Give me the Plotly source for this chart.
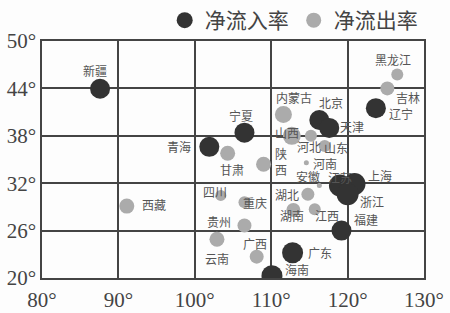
import plotly.graph_objects as go

# ---- data ----
provinces = ["新疆", "青海", "甘肃", "宁夏", "陕西", "内蒙古", "山西", "河北", "北京", "天津",
             "山东", "河南", "安徽", "江苏", "上海", "浙江", "福建", "广东", "海南", "湖北",
             "湖南", "江西", "四川", "重庆", "贵州", "云南", "广西", "西藏", "黑龙江", "吉林", "辽宁"]
flow_type = ["in", "in", "out", "in", "out", "out", "out", "out", "in", "in",
             "out", "out", "out", "in", "in", "in", "in", "in", "in", "out",
             "out", "out", "out", "out", "out", "out", "out", "out", "out", "out", "in"]
longitude = [87.6, 101.9, 104.3, 106.5, 109.0, 111.6, 112.7, 115.2, 116.3, 117.6,
             117.0, 114.6, 116.3, 119.0, 120.9, 120.0, 119.2, 112.8, 110.1, 114.8,
             112.9, 115.7, 103.4, 106.5, 106.5, 102.9, 108.1, 91.1, 126.5, 125.2, 123.7]
latitude = [43.95, 36.6, 35.8, 38.4, 34.4, 40.7, 38.0, 38.0, 40.0, 39.0,
            36.7, 34.6, 31.7, 31.7, 31.9, 30.6, 26.0, 23.2, 20.3, 30.6,
            28.6, 28.7, 30.45, 29.6, 26.65, 24.9, 22.7, 29.1, 45.75, 44.0, 41.5]
rate_abs = [10, 10, 7.5, 10, 7.5, 8.5, 9, 6, 10, 10,
            6, 2.5, 2.5, 11, 11, 11, 10, 10.5, 10.5, 6.5,
            7, 6, 5.5, 6, 7, 7.5, 7, 7.5, 6, 7, 10]
x_ticks = [80, 90, 100, 110, 120, 130]
y_ticks = [20, 26, 32, 38, 44, 50]
legend_names = {"in": "净流入率", "out": "净流出率"}

# ---- label placement (pixel offsets from each point) ----
label_offsets = {
    "新疆": (-5, -18), "青海": (-30, 0), "甘肃": (4, 16), "宁夏": (-3, -17),
    "陕西": (17, -3), "内蒙古": (11, -17), "山西": (-5, -3), "河北": (-2, 11),
    "北京": (12, -18), "天津": (23, -1), "山东": (11, 1), "河南": (19, 1),
    "安徽": (-11, -9), "江苏": (0, -8), "上海": (26, -8), "浙江": (24, 7),
    "福建": (25, -11), "广东": (27, 0), "海南": (25, -6), "湖北": (-21, 0),
    "湖南": (-1, 5), "江西": (12, 6), "四川": (-6, -4), "重庆": (11, 0),
    "贵州": (-25, -4), "云南": (0, 19), "广西": (-2, -13), "西藏": (27, -2),
    "黑龙江": (-4, -15), "吉林": (21, 9), "辽宁": (25, 5),
}
colors = {"in": "#333333", "out": "#ababab"}
size_scale = 2.0
cjk = "Noto Sans CJK SC"

fig = go.Figure()
for t in ["out", "in"]:
    idx = [i for i, f in enumerate(flow_type) if f == t]
    fig.add_trace(go.Scatter(
        x=[longitude[i] for i in idx], y=[latitude[i] for i in idx],
        mode="markers",
        marker=dict(size=[rate_abs[i] * size_scale for i in idx], sizemode="diameter",
                    color=colors[t], line=dict(width=0), opacity=1),
        text=[provinces[i] for i in idx], hoverinfo="text",
        showlegend=False,
    ))

# legend-only traces
for t, sz in [("in", 19), ("out", 15)]:
    fig.add_trace(go.Scatter(x=[None], y=[None], mode="markers", name=legend_names[t],
                             marker=dict(size=sz, color=colors[t])))

for name, lon, lat in zip(provinces, longitude, latitude):
    dx, dy = label_offsets[name]
    txt = "陕<br>西" if name == "陕西" else name
    fig.add_annotation(x=lon, y=lat, xref="x", yref="y", text=txt, showarrow=False,
                       xshift=dx, yshift=-dy,
                       font=dict(family=cjk, size=12, color="#555555"))

axis_common = dict(showgrid=True, gridcolor="#444444", gridwidth=1.5,
                   showline=True, linecolor="#444444", linewidth=1.5, mirror=True,
                   zeroline=False, ticks="", automargin=False,
                   tickfont=dict(family="Liberation Serif", size=21, color="#444444"))

fig.update_layout(
    width=450, height=313,
    margin=dict(l=42, r=26, t=33, b=35),
    paper_bgcolor="#fdfdfd", plot_bgcolor="#fdfdfd",
    xaxis=dict(range=[80, 130], tickvals=x_ticks, ticktext=[f"{v}°" for v in x_ticks],
               ticklabelstandoff=2, **axis_common),
    yaxis=dict(range=[20, 50], tickvals=y_ticks, ticktext=[f"{v}°" for v in y_ticks],
               ticklabelstandoff=0, **axis_common),
    legend=dict(orientation="h", xref="container", yref="container",
                x=0.366, y=1.0, xanchor="left", yanchor="top",
                font=dict(family=cjk, size=21, color="#444444"),
                bgcolor="rgba(0,0,0,0)", itemsizing="trace"),
    showlegend=True,
)

fig.write_html("out.html")
